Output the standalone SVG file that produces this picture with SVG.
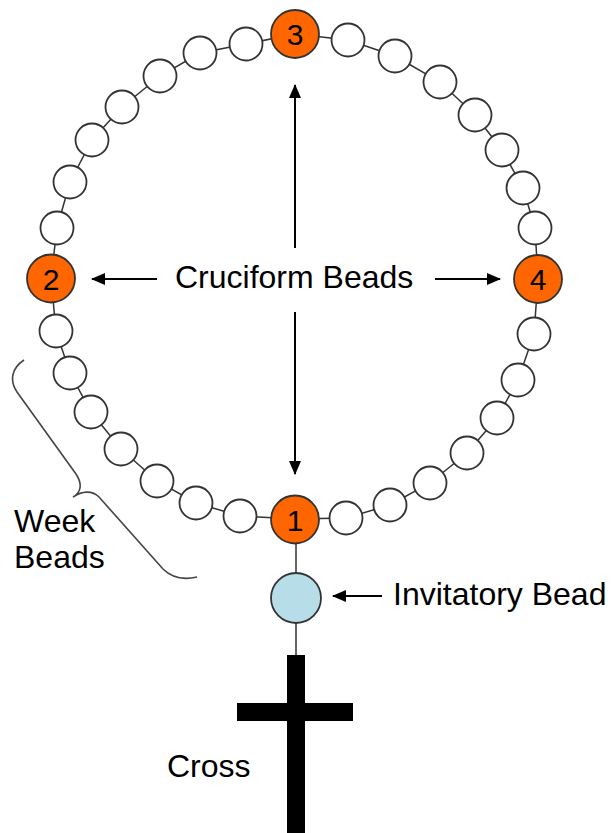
<svg xmlns="http://www.w3.org/2000/svg" width="613" height="833" viewBox="0 0 613 833">
<style>
.str{fill:none;stroke:#333;stroke-width:1.5}
.w{fill:#fff;stroke:#333;stroke-width:1.8}
.o{fill:#ff6600;stroke:#333;stroke-width:1.8}
.inv{fill:#b7dde8;stroke:#333;stroke-width:1.8}
.num{font-family:"Liberation Sans",Arial,sans-serif;font-size:30px;fill:#000;text-anchor:middle}
.lbl{font-family:"Liberation Sans",Arial,sans-serif;font-size:32px;fill:#000}
.arr{stroke:#000;stroke-width:2;fill:none;marker-end:url(#ah)}
</style>
<defs>
<marker id="ah" markerWidth="14" markerHeight="12" refX="13" refY="6" orient="auto" markerUnits="userSpaceOnUse">
<path d="M0,0 L14,6 L0,12 Z" fill="#000"/>
</marker>
</defs>
<rect width="613" height="833" fill="#fff"/>
<g id="connectors">
<polygon class="str" points="295,34 348,40 395,56 440,82 475,115 502,150 523,188 535,228 538,279 534,334 518,380 497,418 467,453 430,483 390,505 346,518 295,519 240,516 196,503 157,481 121,449 91,412 70,373 56,331 51,278 57,228 70,182 92,140 122,107 160,76 200,53 246,44"/>
<line class="str" x1="296" y1="519" x2="296" y2="656"/>
<line class="arr" x1="295" y1="248" x2="295" y2="85"/>
<line class="arr" x1="295" y1="312" x2="295" y2="474"/>
<line class="arr" x1="157" y1="279" x2="92" y2="279"/>
<line class="arr" x1="435" y1="279" x2="500" y2="279"/>
<line class="arr" x1="382" y1="596" x2="333" y2="596"/>
<path id="brace" d="M24,360 C12,368 9,380 17,392 L76,474 C82,483 82,492 73,497 C82,491 92,490 99,497 L163,569 C172,578 184,580 197,577" fill="none" stroke="#444" stroke-width="1.6"/>
</g>
<g id="week-beads">
<circle class="w" cx="348" cy="40" r="16.5"/>
<circle class="w" cx="395" cy="56" r="16.5"/>
<circle class="w" cx="440" cy="82" r="16.5"/>
<circle class="w" cx="475" cy="115" r="16.5"/>
<circle class="w" cx="502" cy="150" r="16.5"/>
<circle class="w" cx="523" cy="188" r="16.5"/>
<circle class="w" cx="535" cy="228" r="16.5"/>
<circle class="w" cx="534" cy="334" r="16.5"/>
<circle class="w" cx="518" cy="380" r="16.5"/>
<circle class="w" cx="497" cy="418" r="16.5"/>
<circle class="w" cx="467" cy="453" r="16.5"/>
<circle class="w" cx="430" cy="483" r="16.5"/>
<circle class="w" cx="390" cy="505" r="16.5"/>
<circle class="w" cx="346" cy="518" r="16.5"/>
<circle class="w" cx="240" cy="516" r="16.5"/>
<circle class="w" cx="196" cy="503" r="16.5"/>
<circle class="w" cx="157" cy="481" r="16.5"/>
<circle class="w" cx="121" cy="449" r="16.5"/>
<circle class="w" cx="91" cy="412" r="16.5"/>
<circle class="w" cx="70" cy="373" r="16.5"/>
<circle class="w" cx="56" cy="331" r="16.5"/>
<circle class="w" cx="57" cy="228" r="16.5"/>
<circle class="w" cx="70" cy="182" r="16.5"/>
<circle class="w" cx="92" cy="140" r="16.5"/>
<circle class="w" cx="122" cy="107" r="16.5"/>
<circle class="w" cx="160" cy="76" r="16.5"/>
<circle class="w" cx="200" cy="53" r="16.5"/>
<circle class="w" cx="246" cy="44" r="16.5"/>
</g>
<g id="bead1"><circle class="o" cx="295" cy="519.5" r="24"/><text class="num" x="295" y="530.5">1</text></g>
<g id="bead2"><circle class="o" cx="51" cy="278.5" r="24"/><text class="num" x="51" y="289.5">2</text></g>
<g id="bead3"><circle class="o" cx="295" cy="34" r="24"/><text class="num" x="295" y="45">3</text></g>
<g id="bead4"><circle class="o" cx="538" cy="279" r="24"/><text class="num" x="538" y="290">4</text></g>
<g id="invitatory"><circle class="inv" cx="296" cy="598" r="25"/></g>
<g id="cross">
<rect x="287" y="655" width="18" height="178" fill="#000"/>
<rect x="237" y="703" width="116" height="18" fill="#000"/>
</g>
<g id="labels">
<text class="lbl" x="175" y="288">Cruciform Beads</text>
<text class="lbl" x="393" y="605">Invitatory Bead</text>
<text class="lbl" x="14" y="532">Week</text>
<text class="lbl" x="14" y="568">Beads</text>
<text class="lbl" x="167" y="777">Cross</text>
</g>
</svg>
